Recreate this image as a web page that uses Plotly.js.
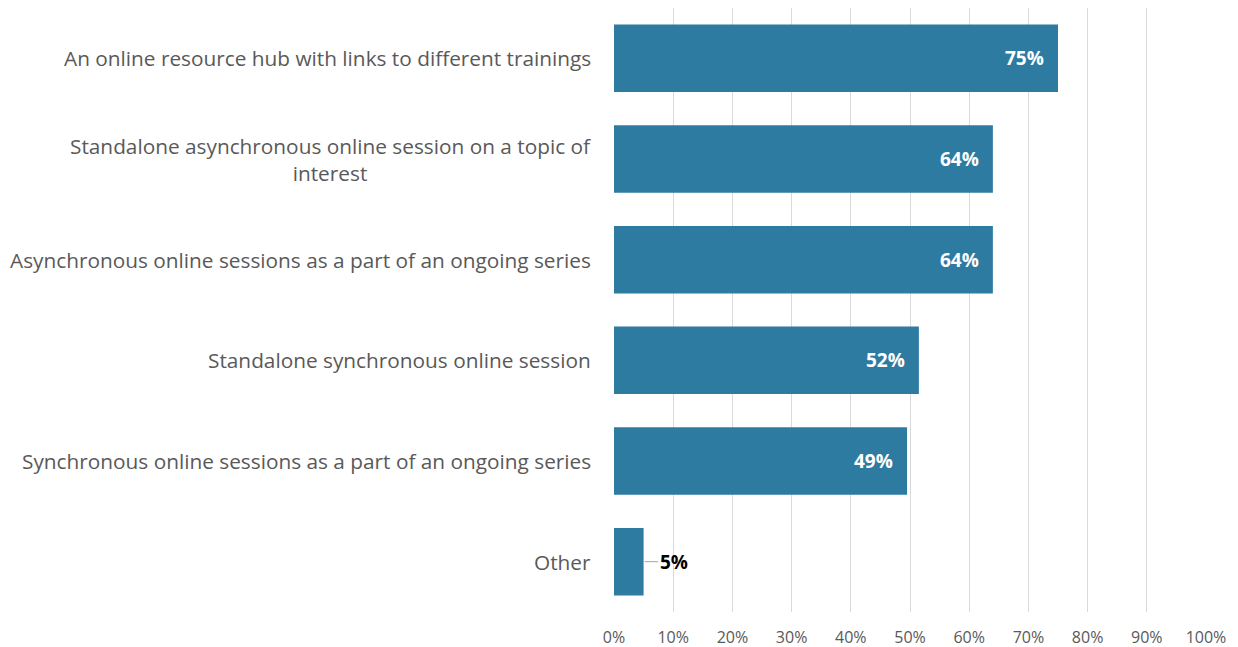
<!DOCTYPE html>
<html>
<head>
<meta charset="utf-8">
<script src="https://cdn.plot.ly/plotly-3.0.1.min.js"></script>
<style>html,body{margin:0;padding:0;background:#fff;}#chart{width:1238px;height:647px;}</style>
</head>
<body>
<div id="chart"></div>
<script>
const categories = [
  "An online resource hub with links to different trainings",
  "Standalone asynchronous online session on a topic of<br>interest",
  "Asynchronous online sessions as a part of an ongoing series",
  "Standalone synchronous online session",
  "Synchronous online sessions as a part of an ongoing series",
  "Other"
];
const values = [0.75, 0.64, 0.64, 0.515, 0.495, 0.05];
const labels = ["75%", "64%", "64%", "52%", "49%", "5%"];
const tickVals = [0,0.1,0.2,0.3,0.4,0.5,0.6,0.7,0.8,0.9,1.0];
const tickText = ["0%","10%","20%","30%","40%","50%","60%","70%","80%","90%","100%"];

const FONT = "Open Sans, sans-serif";
const ids = categories.map((c,i)=>"c"+i);

const trace = {
  type: "bar",
  orientation: "h",
  x: values,
  y: ids,
  marker: {color: "#2E7BA1"},
  hoverinfo: "none"
};

const annotations = [];
categories.forEach((c,i)=>{
  annotations.push({
    xref: "paper", yref: "y", x: 0, y: ids[i],
    xanchor: "right", yanchor: "middle", xshift: -21,
    text: c, align: "center", showarrow: false,
    font: {family: FONT, size: 20.8, color: "#595959"}
  });
});
values.forEach((v,i)=>{
  if (v > 0.2) {
    annotations.push({
      xref: "x", yref: "y", x: v, y: ids[i],
      xanchor: "right", yanchor: "middle", xshift: -12,
      text: "<b>"+labels[i]+"</b>", showarrow: false,
      font: {family: FONT, size: 19, color: "#FFFFFF"}
    });
  } else {
    annotations.push({
      xref: "x", yref: "y", x: v, y: ids[i],
      text: "<b>"+labels[i]+"</b>", showarrow: true,
      arrowhead: 0, arrowwidth: 1, arrowcolor: "#A6A6A6",
      ax: 30, ay: 0, standoff: 1,
      font: {family: FONT, size: 19, color: "#000000"}
    });
  }
});

const layout = {
  width: 1238, height: 647,
  margin: {l: 614, r: 32, t: 8, b: 35},
  paper_bgcolor: "#fff", plot_bgcolor: "#fff",
  showlegend: false,
  bargap: 0.33,
  xaxis: {
    range: [0, 1.0], tickvals: tickVals, ticktext: tickText,
    showgrid: true, gridcolor: "#D9D9D9", gridwidth: 1,
    zeroline: false, showline: false, ticks: "",
    ticklabelstandoff: 14,
    tickfont: {family: FONT, size: 16, color: "#595959"},
    fixedrange: true
  },
  yaxis: {
    type: "category", categoryorder: "array", categoryarray: ids,
    autorange: "reversed", showticklabels: false, showgrid: false,
    zeroline: false, showline: false, ticks: "", fixedrange: true
  },
  annotations: annotations
};

Plotly.newPlot("chart", [trace], layout, {displayModeBar: false, staticPlot: true});
</script>
</body>
</html>
